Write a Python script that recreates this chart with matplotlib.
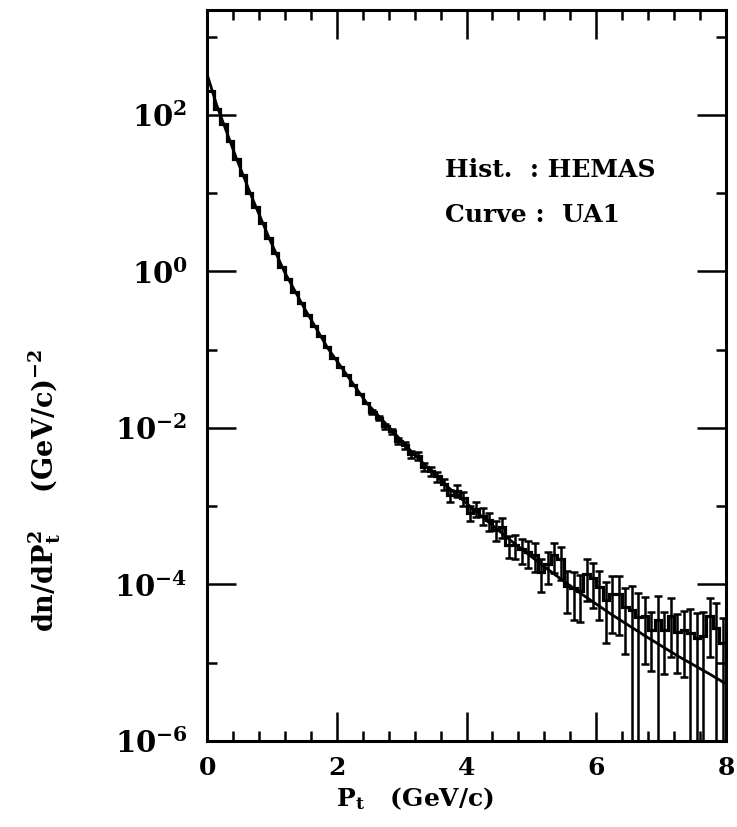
import numpy as np
import matplotlib.pyplot as plt
from matplotlib.ticker import FixedLocator, FixedFormatter, MultipleLocator

plt.rcParams['font.family'] = 'DejaVu Serif'
plt.rcParams['font.weight'] = 'bold'
plt.rcParams['mathtext.fontset'] = 'dejavuserif'
plt.rcParams['mathtext.default'] = 'bf'

# HEMAS histogram, bins of 0.1 GeV/c from 0 to 8
bin_edges = np.linspace(0, 8, 81)
hist_vals = np.array([
    200, 120, 76, 46, 27, 17, 10.2, 6.6, 4.2, 2.7,
    1.74, 1.15, 0.79, 0.55, 0.40, 0.28, 0.20, 0.148, 0.107, 0.078,
    0.060, 0.047, 0.035, 0.027, 0.021, 0.016, 0.0135, 0.0105, 0.0091, 0.0069,
    0.0060, 0.0046, 0.0044, 0.0032, 0.0028, 0.0024, 0.0019, 0.00138, 0.00158, 0.00126,
    8.3e-4, 9.3e-4, 7.6e-4, 6.6e-4, 5.0e-4, 5.5e-4, 3.2e-4, 3.2e-4, 2.8e-4, 2.6e-4,
    2.4e-4, 1.45e-4, 1.82e-4, 2.4e-4, 2.1e-4, 9.5e-5, 8.9e-5, 8.3e-5, 1.35e-4, 1.2e-4,
    9.3e-5, 6.3e-5, 7.6e-5, 7.6e-5, 5.2e-5, 4.7e-5, 3.8e-5, 3.9e-5, 2.6e-5, 3.5e-5,
    2.6e-5, 3.9e-5, 2.5e-5, 2.6e-5, 2.4e-5, 2.1e-5, 2.2e-5, 3.9e-5, 2.8e-5, 1.8e-5,
])
# relative errors of the histogram (0 = bar not visible)
hist_relerr = np.array([
    0, 0, 0, 0, 0, 0, 0, 0, 0, 0,
    0, 0, 0, 0, 0, 0, 0, 0, 0, 0,
    0, 0, 0, 0, 0, 0.05, 0.06, 0.07, 0.08, 0.09,
    0.10, 0.11, 0.12, 0.13, 0.14, 0.15, 0.16, 0.18, 0.18, 0.20,
    0.22, 0.22, 0.24, 0.26, 0.28, 0.28, 0.32, 0.34, 0.35, 0.37,
    0.40, 0.45, 0.45, 0.42, 0.45, 0.55, 0.60, 0.60, 0.55, 0.58,
    0.62, 0.72, 0.68, 0.70, 0.75, 1.05, 1.05, 0.75, 0.70, 1.05,
    0.72, 0.70, 0.70, 0.75, 1.05, 1.05, 1.05, 0.70, 1.05, 1.05,
])

# UA1 curve
ua1_pt = [0, 0.15, 0.45, 0.70, 0.96, 1.19, 1.50, 1.86, 2.46, 2.66, 3.17,
          3.68, 4.19, 4.70, 5.21, 5.72, 6.23, 6.74, 7.25, 7.76, 8.0]
ua1_val = [331, 132, 28.2, 8.5, 2.63, 1.0, 0.339, 0.105, 0.0209, 0.0138, 0.00479,
           0.00186, 7.94e-4, 3.55e-4, 1.66e-4, 8.1e-5, 4.17e-5, 2.24e-5, 1.23e-5,
           7.08e-6, 5.37e-6]

ytick_vals = [1e-6, 1e-4, 1e-2, 1e0, 1e2]
ytick_labels = ['$10^{-6}$', '$10^{-4}$', '$10^{-2}$', '$10^{0}$', '$10^{2}$']
ytick_minor = [1e-5, 1e-3, 1e-1, 1e1, 1e3]

fig = plt.figure(figsize=(7.37, 8.27), dpi=100)
ax = fig.add_axes([0.281, 0.104, 0.704, 0.884])

ax.stairs(hist_vals, bin_edges, color='k', lw=2.3, baseline=None)

centers = 0.5 * (bin_edges[:-1] + bin_edges[1:])
m = hist_relerr > 0
ax.errorbar(centers[m], hist_vals[m], yerr=hist_vals[m] * hist_relerr[m],
            fmt='none', ecolor='k', elinewidth=1.8, capsize=3, capthick=1.8)

ax.plot(ua1_pt, ua1_val, color='k', lw=2)

ax.set_yscale('log')
ax.set_xlim(0, 8)
ax.set_ylim(1e-6, 2200)

ax.xaxis.set_major_locator(MultipleLocator(2))
ax.xaxis.set_minor_locator(MultipleLocator(0.4))
ax.yaxis.set_major_locator(FixedLocator(ytick_vals))
ax.yaxis.set_major_formatter(FixedFormatter(ytick_labels))
ax.yaxis.set_minor_locator(FixedLocator(ytick_minor))
ax.yaxis.set_minor_formatter(FixedFormatter([''] * len(ytick_minor)))

ax.tick_params(which='both', direction='in', top=True, right=True, width=1.8)
ax.tick_params(which='major', length=21)
ax.tick_params(which='minor', length=7)
ax.tick_params(axis='x', labelsize=18, pad=11)
ax.tick_params(axis='y', labelsize=21, pad=14)
for s in ax.spines.values():
    s.set_linewidth(2.2)

ax.set_xlabel(r'$\mathbf{P_t}$   (GeV/c)', fontsize=18, fontweight='bold')
ax.xaxis.set_label_coords(0.40, -0.060)
fig.text(0.061, 1 - 490 / 827, r'dn/dP$_\mathbf{t}^\mathbf{2}$    (GeV/c)$^{-2}$',
         rotation=90, ha='center', va='center', fontsize=19.5, fontweight='bold')

ax.text(0.459, 0.781, 'Hist.  : HEMAS', transform=ax.transAxes, fontsize=18,
        fontweight='bold', va='center')
ax.text(0.459, 0.720, 'Curve :  UA1', transform=ax.transAxes, fontsize=18,
        fontweight='bold', va='center')

fig.savefig('out.png', dpi=100)
